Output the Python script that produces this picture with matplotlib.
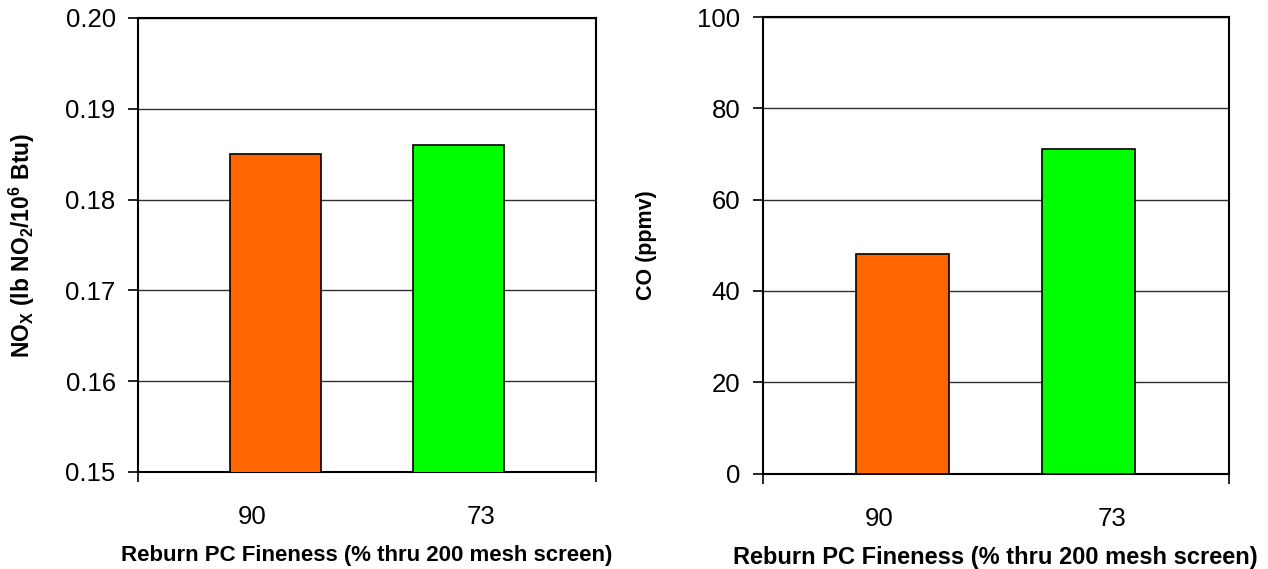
import matplotlib
matplotlib.use("Agg")
import matplotlib.pyplot as plt

plt.rcParams['font.family'] = ['Liberation Sans', 'DejaVu Sans']
plt.rcParams['mathtext.fontset'] = 'custom'
plt.rcParams['mathtext.bf'] = 'Liberation Sans:bold'
plt.rcParams['mathtext.rm'] = 'Liberation Sans'

# Reburn coal fineness test results
fineness_labels = ['90', '73']
bar_colors = ['#FF6600', '#00FF00']
nox_values = [0.185, 0.186]      # lb NO2 / 10^6 Btu
co_values = [48, 71]             # ppmv

nox_ticks = [0.15, 0.16, 0.17, 0.18, 0.19, 0.20]
co_ticks = [0, 20, 40, 60, 80, 100]

xlabel = 'Reburn PC Fineness (% thru 200 mesh screen)'

fig = plt.figure(figsize=(12.68, 5.69), dpi=100)
ax1 = fig.add_axes([0.1088, 0.1705, 0.3612, 0.7979])
ax2 = fig.add_axes([0.6015, 0.1678, 0.3675, 0.8023])

# bars sit slightly inward from the category centres
bar_pos = [0.1, 0.9]
bar_width = 0.4


def style_panel(ax, values, ticks, fmt, ylabel, ylabel_x, ylabel_size,
                xlabel_size):
    ax.bar(bar_pos, values, width=bar_width, color=bar_colors,
           edgecolor='black', linewidth=1.2, zorder=3)
    ax.set_xlim(-0.5, 1.5)
    ax.set_ylim(ticks[0], ticks[-1])
    ax.set_yticks(ticks)
    ax.set_yticklabels([fmt.format(t) for t in ticks])
    ax.yaxis.grid(True, color='#303030', linewidth=1.0, zorder=0)
    ax.set_axisbelow(True)
    for s in ax.spines.values():
        s.set_color('black')
        s.set_linewidth(1.5)
    ax.tick_params(axis='y', direction='out', length=7, width=1.2,
                   pad=9, labelsize=18.5)
    # category boundary ticks only at the two ends
    ax.set_xticks([-0.5, 1.5])
    ax.set_xticklabels(['', ''])
    ax.set_xticks([0, 1], minor=True)
    ax.set_xticklabels(fineness_labels, minor=True)
    ax.tick_params(axis='x', which='major', direction='out', length=7,
                   width=1.2)
    ax.tick_params(axis='x', which='minor', length=0, pad=24,
                   labelsize=18.5)
    ax.set_xlabel(xlabel, fontsize=xlabel_size, fontweight='bold',
                  labelpad=11)
    ax.set_ylabel(ylabel, fontsize=ylabel_size, fontweight='bold')
    ax.yaxis.set_label_coords(ylabel_x, 0.5)


style_panel(ax1, nox_values, nox_ticks, '{:.2f}',
            r'NO$_\mathbf{X}$ (lb NO$_\mathbf{2}$/10$^\mathbf{6}$ Btu)',
            -0.2205, 16.5, 16)
style_panel(ax2, co_values, co_ticks, '{:.0f}', 'CO (ppmv)',
            -0.227, 15.5, 17)

fig.savefig('out.png', dpi=100, facecolor='white')
